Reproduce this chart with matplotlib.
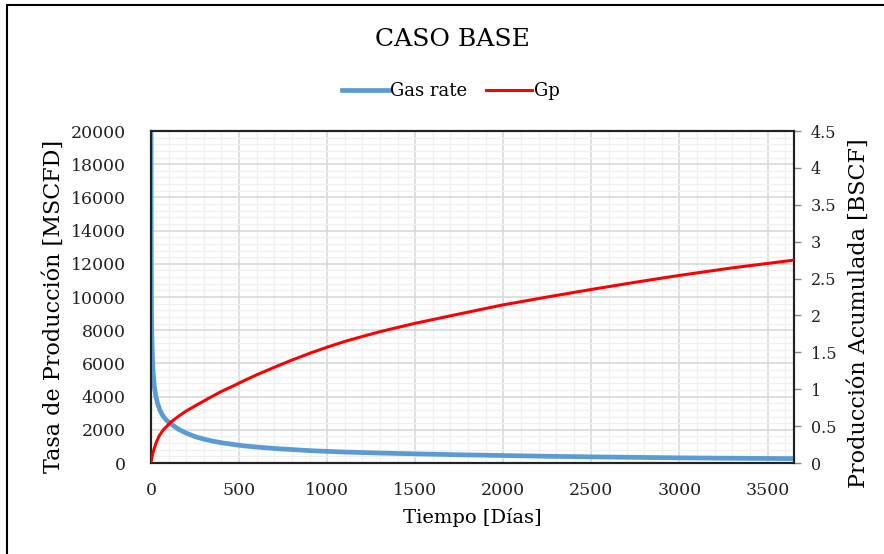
import numpy as np
import matplotlib.pyplot as plt
from matplotlib.patches import Rectangle
from matplotlib.ticker import MultipleLocator

plt.rcParams['font.family'] = ['DejaVu Serif']

# caudal de gas [MSCFD] vs tiempo [dias]
t_rate = [0, 1, 2, 3, 5, 8, 12, 19, 28, 38, 50, 66, 85, 113, 160, 200, 255,
          300, 349, 400, 472, 530, 600, 720, 800, 910, 1000, 1100, 1300, 1500,
          1750, 2000, 2250, 2500, 2750, 3000, 3300, 3650]
gas_rate = [20000, 14000, 10500, 9000, 7500, 6400, 5500, 4600, 4000, 3570,
            3200, 2870, 2600, 2350, 2010, 1800, 1570, 1440, 1320, 1220, 1110,
            1030, 960, 860, 810, 740, 700, 660, 600, 550, 495, 450, 405, 370,
            340, 310, 285, 265]

# produccion acumulada [BSCF]
t_gp = [0, 3, 10, 19, 30, 47, 70, 113, 160, 200, 255, 300, 349, 400, 472, 532,
        600, 718, 800, 910, 1000, 1097, 1200, 1300, 1493, 1750, 1991, 2250,
        2494, 2750, 2992, 3300, 3650]
gp = [0, 0.05, 0.13, 0.20, 0.28, 0.37, 0.45, 0.555, 0.64, 0.705, 0.78, 0.84,
      0.905, 0.97, 1.05, 1.12, 1.195, 1.315, 1.395, 1.495, 1.57, 1.645, 1.715,
      1.78, 1.89, 2.02, 2.14, 2.25, 2.35, 2.45, 2.54, 2.645, 2.75]

fig = plt.figure(figsize=(8.84, 5.54), dpi=100)
ax = fig.add_axes([151/884, 1-463/554, 643/884, 332/554])
ax2 = ax.twinx()

l1, = ax.plot(t_rate, gas_rate, color='#5B9BD5', lw=3.4, label='Gas rate',
              zorder=3)
l2, = ax2.plot(t_gp, gp, color='#FF0000', lw=2.2, label='Gp', zorder=3)

ax.set_xlim(0, 3650)
ax.set_ylim(0, 20000)
ax2.set_ylim(0, 4.5)

ax.xaxis.set_major_locator(MultipleLocator(500))
ax.xaxis.set_minor_locator(MultipleLocator(100))
ax.yaxis.set_major_locator(MultipleLocator(2000))
ax.yaxis.set_minor_locator(MultipleLocator(400))
ax2.set_yticks([0, 0.5, 1, 1.5, 2, 2.5, 3, 3.5, 4, 4.5])
ax2.set_yticklabels(['0', '0.5', '1', '1.5', '2', '2.5', '3', '3.5', '4', '4.5'])

ax.grid(which='major', color='#d9d9d9', lw=1.2)
ax.grid(which='minor', color='#f0f0f0', lw=1.0)
ax.set_axisbelow(True)

ax.tick_params(which='both', length=0, labelsize=12.5, colors='#222222')
ax.tick_params(axis='y', pad=18)
ax.tick_params(axis='x', pad=14)
ax2.tick_params(axis='y', length=5, width=1, color='#888888', labelsize=11.5,
                pad=7, labelcolor='#222222')

for a in (ax, ax2):
    for s in a.spines.values():
        s.set_color('#222222')
        s.set_linewidth(1.5)

ax.set_xlabel('Tiempo [Días]', fontsize=14, labelpad=6)
ax.set_ylabel('Tasa de Producción [MSCFD]', fontsize=16)
ax2.set_ylabel('Producción Acumulada [BSCF]', fontsize=16)
ax.yaxis.set_label_coords(-86/643, 0.473)
ax2.yaxis.set_label_coords(1 + 54/643, 0.452)

fig.text(0.512, 1-40/554, 'CASO BASE', ha='center', va='center', fontsize=18)
fig.legend(handles=[l1, l2], loc='center', bbox_to_anchor=(0.51, 1-91/554),
           ncol=2, frameon=False, fontsize=13, handlelength=2.6,
           handletextpad=0.1, columnspacing=1.0)

fig.add_artist(Rectangle((7/884, -0.1), 1.2, 1.1 - 5/554, transform=fig.transFigure,
                         fill=False, edgecolor='black', lw=1.5))

fig.savefig('out.png', dpi=100)
